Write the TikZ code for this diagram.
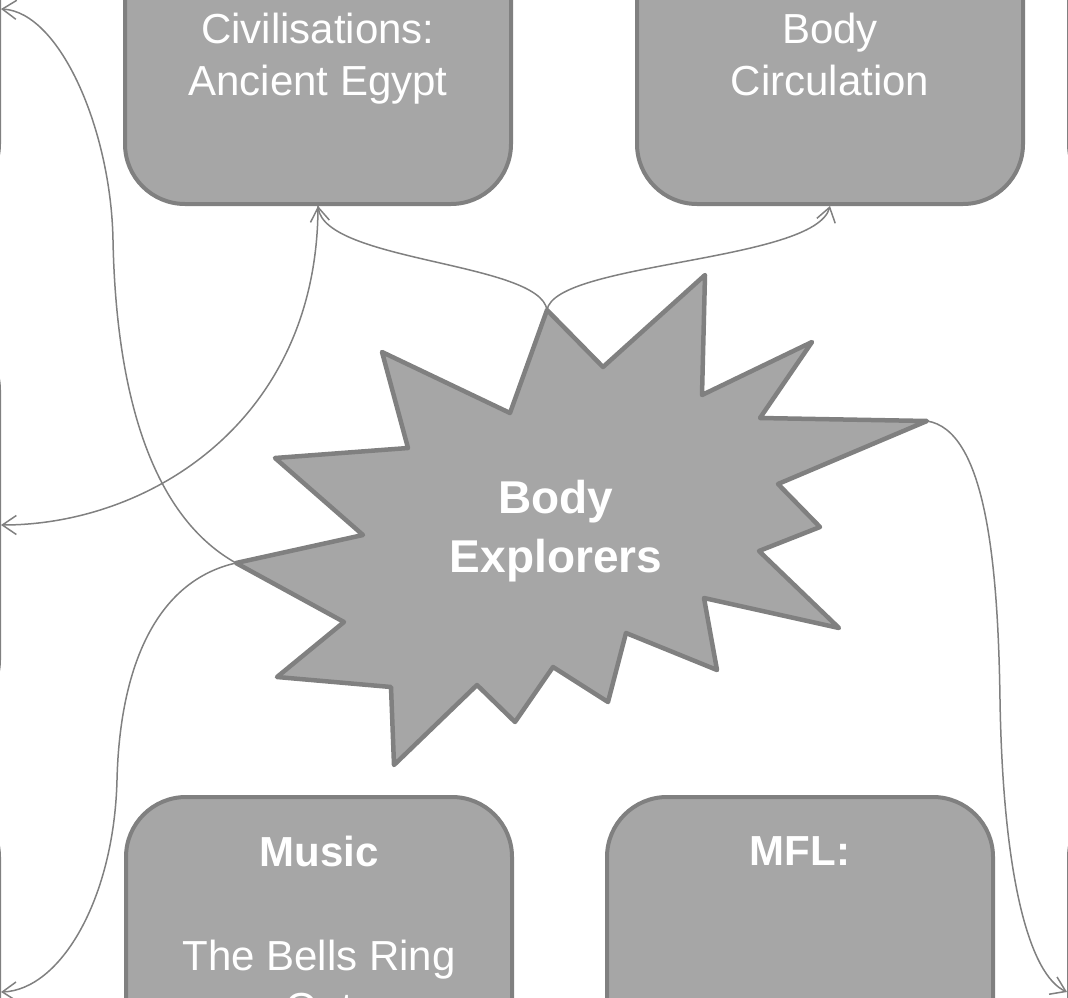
\documentclass[tikz,border=0pt]{standalone}
\usepackage{fontspec}
\setmainfont{Liberation Sans}
\usetikzlibrary{positioning,arrows.meta}
\definecolor{boxfill}{HTML}{A6A6A6}
\definecolor{boxline}{HTML}{808080}
\tikzset{
    topic/.style={
           rectangle,
           rounded corners=60pt,
           draw=boxline, line width=4pt,
           fill=boxfill,
           minimum width=386pt,
           minimum height=390pt,
           inner sep=0pt,
           },
}
\tikzset{
    topictext/.style={
           text=white,
           align=center,
           inner sep=0pt,
           font=\fontsize{42}{52}\selectfont,
           },
}
\tikzset{
    burst/.style={
           draw=boxline, line width=4.5pt,
           fill=boxfill,
           line join=round,
           },
}
\tikzset{
    linkline/.style={
           draw=boxline, line width=1.5pt,
           -{Straight Barb[length=14pt,width=19pt]},
           },
}

\begin{document}
\begin{tikzpicture}[x=1pt,y=-1pt]
\useasboundingbox (0,0) rectangle (1068,998);
\clip (0,0) rectangle (1068,998);
% topic boxes
\node[topic](civ) at (318,9){};
\node[topic](circ) at (830,9){};
\node[topic](music) at (319,992){};
\node[topic](mfl) at (800,992){};
% boxes beyond the edges
\node[topic](west1) at (-194,9){};
\node[topic](west2) at (-194,525){};
\node[topic](west3) at (-194,992){};
\node[topic](east1) at (1262,9){};
\node[topic](east2) at (1262,992){};
% texts
\node[topictext, below = 201pt of civ.north](civtext){Civilisations:\\Ancient Egypt};
\node[topictext, below = 201pt of circ.north](circtext){Body\\Circulation};
\node[topictext, below = 41pt of music.north](musictext){\textbf{Music}\\[52pt]The Bells Ring\\Out};
\node[topictext, below = 41pt of mfl.north](mfltext){\textbf{MFL:}};
% centre burst
\draw[burst] (547,310) coordinate (bursttop) -- (603,367) -- (705,275) -- (702,395)
  -- (812,342) -- (760,418) -- (927,421) coordinate (burstright) -- (778,484)
  -- (820,527) -- (759,551) -- (839,628) -- (704,598) -- (717,670) -- (626,633)
  -- (608,702) -- (553,667) -- (515,722) -- (477,685) -- (394,765) -- (391,687)
  -- (277,677) -- (344,622) -- (236,563) coordinate (burstleft) -- (363,535)
  -- (275,458) -- (408,448) -- (382,352) -- (510,413) -- cycle;
\node[topictext, font=\bfseries\fontsize{46}{59}\selectfont, anchor=north](core) at (556,480){Body\\Explorers};
% connectors
\draw[linkline] (bursttop) .. controls (540,262) and (325,262) .. (civ.south);
\draw[linkline] (bursttop) .. controls (555,262) and (815,262) .. (circ.south);
\draw[linkline] (civ.south) .. controls (318,420) and (150,525) .. (west2.east);
\draw[linkline] (burstleft) .. controls (150,515) and (116,390) .. (113,240)
  .. controls (111,130) and (60,12) .. (west1.east);
\draw[linkline] (burstleft) .. controls (160,580) and (120,660) .. (117,780)
  .. controls (114,900) and (60,990) .. (west3.east);
\draw[linkline] (burstright) .. controls (985,430) and (998,560) .. (1000,700)
  .. controls (1003,880) and (1030,975) .. (east2.west);
\end{tikzpicture}
\end{document}
